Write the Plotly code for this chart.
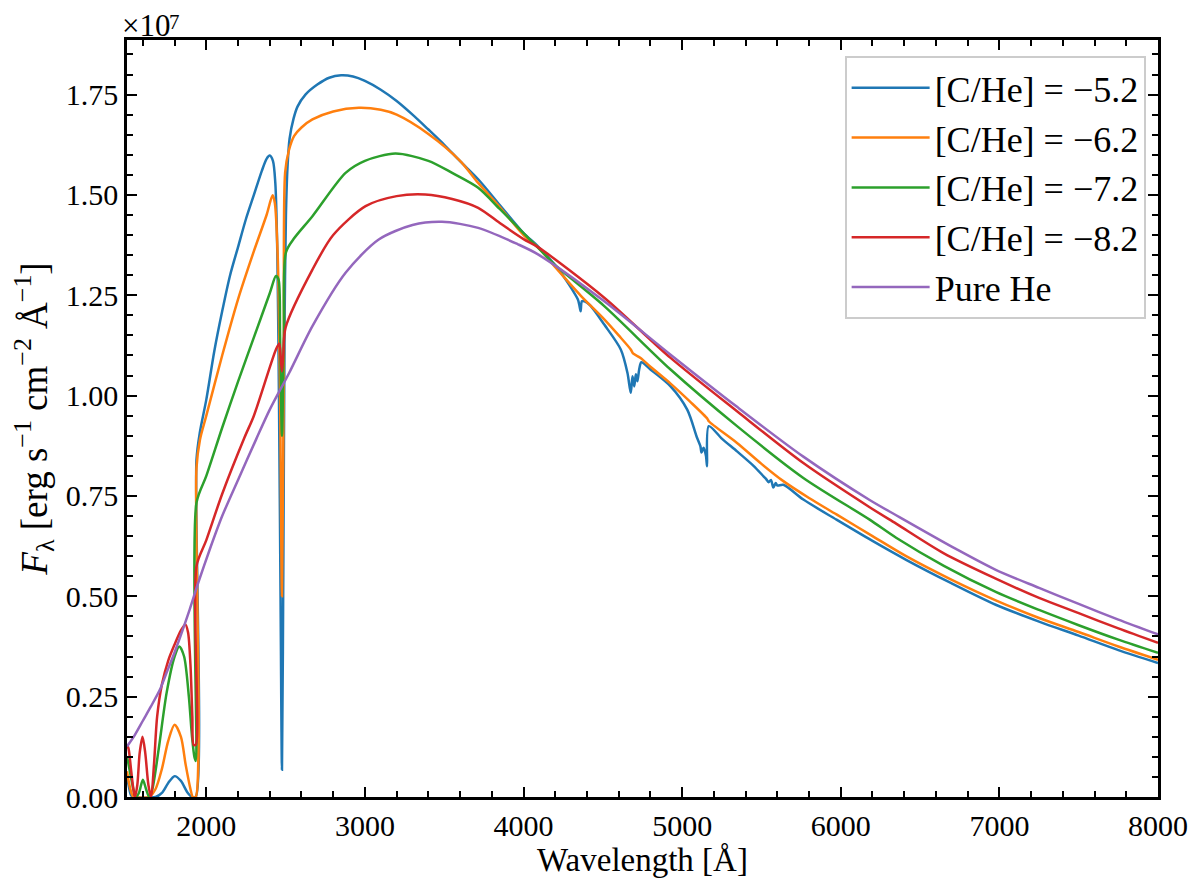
import plotly.graph_objects as go

# Flux values, in units of 1e7 erg/s/cm2/A

# [C/He] = -5.2
wl_c52 = [1500, 1510, 1525, 1540, 1680, 1720, 1760, 1800, 1840, 1880, 1910, 1933,
          1938, 1960, 2000, 2050, 2100, 2150, 2200, 2250, 2300, 2350, 2380, 2400,
          2420, 2435, 2448, 2458, 2468, 2477, 2486, 2494, 2502, 2512, 2525, 2550,
          2575, 2625, 2700, 2775, 2850, 2925, 3000, 3100, 3200, 3300, 3400, 3500,
          3600, 3714, 3850, 4000, 4091, 4229, 4342, 4352, 4360, 4368, 4384, 4420,
          4509, 4613, 4655, 4676, 4687, 4698, 4708, 4718, 4729, 4743, 4800, 4927,
          5032, 5094, 5115, 5122, 5135, 5150, 5157, 5168, 5250, 5346, 5450, 5513,
          5530, 5545, 5560, 5575, 5590, 5600, 5638, 5764, 5973, 6200, 6412, 6700,
          6977, 7250, 7500, 7750, 8000]
flux_c52 = [0.051, 0.030, 0.005, 0.0, 0.0, 0.010, 0.035, 0.052, 0.040, 0.012, 0.0, 0.0,
            0.840, 0.910, 0.990, 1.110, 1.210, 1.300, 1.370, 1.440, 1.500, 1.560, 1.590, 1.598,
            1.585, 1.530, 1.350, 1.000, 0.500, 0.068, 0.600, 1.200, 1.450, 1.570, 1.640, 1.690,
            1.720, 1.750, 1.775, 1.792, 1.798, 1.795, 1.784, 1.762, 1.734, 1.700, 1.663, 1.625,
            1.584, 1.539, 1.475, 1.405, 1.372, 1.310, 1.240, 1.225, 1.210, 1.235, 1.235, 1.225,
            1.177, 1.115, 1.057, 1.007, 1.048, 1.023, 1.053, 1.036, 1.065, 1.083, 1.065, 1.023,
            0.965, 0.895, 0.874, 0.858, 0.870, 0.850, 0.824, 0.924, 0.893, 0.861, 0.825, 0.799,
            0.792, 0.784, 0.790, 0.771, 0.782, 0.776, 0.778, 0.741, 0.691, 0.638, 0.591, 0.532,
            0.479, 0.437, 0.402, 0.366, 0.334]

# [C/He] = -6.2
wl_c62 = [1500, 1515, 1535, 1550, 1640, 1680, 1720, 1760, 1800, 1840, 1870, 1900,
          1915, 1933, 1938, 1960, 2000, 2100, 2200, 2300, 2380, 2418, 2432, 2450,
          2465, 2477, 2489, 2497, 2520, 2554, 2600, 2669, 2800, 2962, 3100, 3200,
          3400, 3600, 3714, 3850, 4000, 4091, 4200, 4363, 4509, 4600, 4676, 4690,
          4738, 4800, 4927, 5050, 5160, 5168, 5346, 5500, 5638, 5800, 5973, 6200,
          6412, 6700, 6977, 7250, 7500, 7750, 8000]
flux_c62 = [0.064, 0.030, 0.003, 0.0, 0.0, 0.020, 0.070, 0.140, 0.180, 0.150, 0.080, 0.020,
            0.0, 0.0, 0.820, 0.890, 0.950, 1.100, 1.240, 1.360, 1.450, 1.499, 1.480, 1.350,
            1.000, 0.500, 1.100, 1.556, 1.610, 1.647, 1.668, 1.688, 1.708, 1.717, 1.712, 1.700,
            1.652, 1.585, 1.530, 1.470, 1.400, 1.370, 1.320, 1.248, 1.190, 1.150, 1.115, 1.105,
            1.094, 1.072, 1.030, 0.985, 0.942, 0.936, 0.882, 0.830, 0.787, 0.745, 0.704, 0.650,
            0.600, 0.541, 0.490, 0.446, 0.411, 0.375, 0.342]

# [C/He] = -7.2
wl_c72 = [1500, 1520, 1540, 1555, 1575, 1600, 1620, 1640, 1660, 1700, 1750, 1800,
          1830, 1860, 1890, 1910, 1925, 1934, 1938, 2000, 2100, 2200, 2300,
          2400, 2439, 2455, 2465, 2477, 2489, 2502, 2550, 2669, 2878, 3000, 3192,
          3400, 3550, 3714, 3850, 4000, 4100, 4200, 4509, 4927, 5346, 5764, 6182,
          6349, 6650, 6977, 7250, 7500, 7750, 8000]
flux_c72 = [0.101, 0.060, 0.020, 0.0, 0.010, 0.043, 0.020, 0.0, 0.020, 0.120, 0.260, 0.350,
            0.375, 0.350, 0.250, 0.150, 0.100, 0.090, 0.733, 0.800, 0.920, 1.035, 1.145,
            1.255, 1.298, 1.290, 1.150, 0.900, 1.150, 1.357, 1.390, 1.447, 1.555, 1.585, 1.603,
            1.585, 1.555, 1.518, 1.465, 1.405, 1.365, 1.325, 1.223, 1.065, 0.924, 0.795, 0.691,
            0.646, 0.576, 0.511, 0.466, 0.428, 0.392, 0.359]

# [C/He] = -8.2
wl_c82 = [1500, 1510, 1525, 1540, 1550, 1565, 1580, 1598, 1615, 1635, 1652, 1670,
          1690, 1720, 1760, 1800, 1840, 1868, 1885, 1900, 1912, 1920, 1934, 1938,
          2000, 2100, 2240, 2300, 2439, 2460, 2470, 2477, 2485, 2500, 2669, 2800,
          3004, 3200, 3380, 3550, 3714, 3850, 4000, 4091, 4509, 4927, 5346, 5764,
          6182, 6349, 6650, 6977, 7250, 7500, 7750, 8000]
flux_c82 = [0.130, 0.120, 0.070, 0.020, 0.0, 0.030, 0.110, 0.150, 0.110, 0.030, 0.0, 0.080,
            0.200, 0.280, 0.340, 0.380, 0.415, 0.430, 0.410, 0.330, 0.200, 0.130, 0.130, 0.575,
            0.640, 0.755, 0.895, 0.950, 1.115, 1.130, 1.090, 1.060, 1.100, 1.170, 1.314, 1.400,
            1.472, 1.497, 1.501, 1.490, 1.468, 1.430, 1.390, 1.370, 1.244, 1.094, 0.961, 0.832,
            0.722, 0.681, 0.607, 0.544, 0.496, 0.458, 0.420, 0.384]

# Pure He
wl_he = [1500, 1550, 1600, 1650, 1707, 1750, 1800, 1850, 1895, 1950, 2021, 2100,
         2200, 2314, 2400, 2523, 2669, 2878, 3087, 3300, 3486, 3714, 3965, 4091,
         4509, 4927, 5346, 5764, 6182, 6349, 6726, 6977, 7250, 7500, 7750, 8000]
flux_he = [0.126, 0.155, 0.190, 0.225, 0.267, 0.310, 0.360, 0.415, 0.467, 0.535, 0.616, 0.700,
           0.790, 0.891, 0.965, 1.057, 1.173, 1.306, 1.389, 1.425, 1.433, 1.418, 1.377, 1.352,
           1.235, 1.102, 0.972, 0.848, 0.740, 0.702, 0.618, 0.566, 0.521, 0.481, 0.442, 0.405]

labels = ["[C/He] = −5.2", "[C/He] = −6.2", "[C/He] = −7.2", "[C/He] = −8.2", "Pure He"]
colors = ["#1f77b4", "#ff7f0e", "#2ca02c", "#d62728", "#9467bd"]

series = [(wl_c52, flux_c52), (wl_c62, flux_c62), (wl_c72, flux_c72),
          (wl_c82, flux_c82), (wl_he, flux_he)]

font_name = "Liberation Serif"

fig = go.Figure()

for i, (wl, fl) in enumerate(series):
    fig.add_trace(go.Scatter(
        x=wl, y=fl, mode="lines", name=labels[i],
        line=dict(color=colors[i], width=2.5, shape="spline", smoothing=0.8),
        legendgroup=str(i)
    ))

axis_common = dict(
    showline=True, linecolor="black", linewidth=2.5, mirror="ticks",
    ticks="inside", ticklen=10, tickwidth=2, tickcolor="black",
    showgrid=False, zeroline=False,
    tickfont=dict(family=font_name, size=30, color="black"),
)

fig.update_xaxes(
    range=[1500, 8000], tickvals=[2000, 3000, 4000, 5000, 6000, 7000, 8000],
    minor=dict(dtick=200, tick0=0, ticks="inside", ticklen=6, tickwidth=1.5, tickcolor="black"),
    title=dict(text="Wavelength [Å]", font=dict(family=font_name, size=33, color="black"), standoff=6),
    **axis_common
)
fig.update_yaxes(
    range=[0, 1.886], tick0=0, dtick=0.25, tickformat=".2f",
    minor=dict(dtick=0.05, tick0=0, ticks="inside", ticklen=6, tickwidth=1.5, tickcolor="black"),
    title=dict(text="<i>F</i><sub>λ</sub> [erg s<sup>−1</sup> cm<sup>−2</sup> Å<sup>−1</sup>]",
               font=dict(family=font_name, size=37, color="black"), standoff=10),
    **axis_common
)

# offset text above the y axis: "×10" with a raised "7"
fig.add_annotation(
    text="×10", xref="paper", yref="paper", x=0, y=1.0,
    xanchor="left", yanchor="bottom", showarrow=False,
    font=dict(family=font_name, size=31, color="black"), xshift=-7, yshift=-5
)
fig.add_annotation(
    text="7", xref="paper", yref="paper", x=0, y=1.0,
    xanchor="left", yanchor="bottom", showarrow=False,
    font=dict(family=font_name, size=21, color="black"), xshift=40, yshift=4
)

# page body has an 8px margin, so the figure is 8px smaller than the window
fig.update_layout(
    width=1192, height=884,
    margin=dict(l=119, r=37, t=32, b=95),
    plot_bgcolor="white", paper_bgcolor="white",
    font=dict(family=font_name, size=30, color="black"),
    legend=dict(
        x=0.988, y=0.979, xanchor="right", yanchor="top",
        bgcolor="white", bordercolor="#cccccc", borderwidth=2,
        font=dict(family=font_name, size=36, color="black"),
        tracegroupgap=0, itemwidth=78
    ),
    showlegend=True
)

fig.write_html("out.html")
